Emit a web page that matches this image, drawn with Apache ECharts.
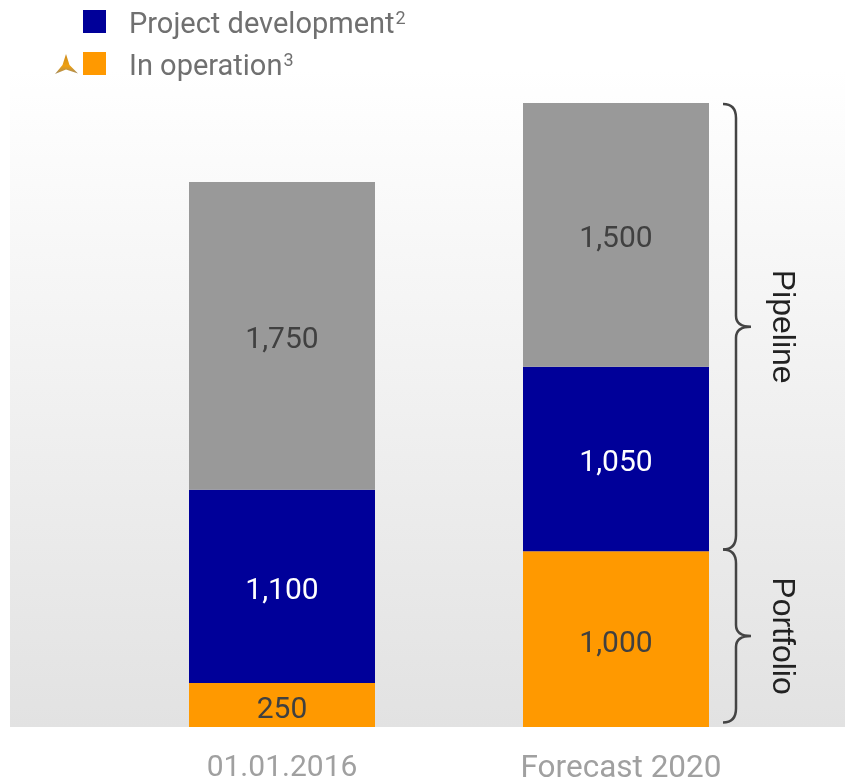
<!DOCTYPE html>
<html>
<head>
<meta charset="utf-8">
<title>Pipeline and portfolio</title>
<script src="https://cdn.jsdelivr.net/npm/echarts@6/dist/echarts.min.js"></script>
<style>
  html, body { margin: 0; padding: 0; background: #fff; }
  #main { width: 845px; height: 783px; }
</style>
</head>
<body>
<div id="main"></div>
<script>
// data
const categories = ['01.01.2016', 'Forecast 2020'];
const inOperation = [250, 1000];
const projectDevelopment = [1100, 1050];
const pipelineRest = [1750, 1500];
const legendNames = ['Project development', 'In operation'];
const legendNotes = ['2', '3'];
const braceNames = ['Portfolio', 'Pipeline'];
const braceFrom = [25, 1010];
const braceTo = [1010, 3545];

const font = 'Roboto';

const chart = echarts.init(document.getElementById('main'));

// thousands separator for the value labels
const valueLabel = (color) => ({
    show: true,
    position: 'inside',
    color: color,
    fontFamily: font,
    fontSize: 30,
    offset: [0, 5],
    formatter: p => p.value.toLocaleString('en-US')
});

// curly bracket next to the second bar, from value lo to value hi
const renderBrace = (params, api) => {
    const cx = api.coord([api.value(0), 0])[0];
    const top = api.coord([api.value(0), api.value(2)])[1];
    const bot = api.coord([api.value(0), api.value(1)])[1];
    const mid = (top + bot) / 2;
    const end = cx + 107, stem = cx + 120, tip = cx + 135;
    const d = [
        'M', end, top, 'Q', stem, top, stem, top + 14,
        'L', stem, mid - 11, 'Q', stem, mid, tip, mid,
        'Q', stem, mid, stem, mid + 11,
        'L', stem, bot - 14, 'Q', stem, bot, end, bot
    ].join(' ');
    return {
        type: 'group',
        children: [
            {
                type: 'path',
                shape: { pathData: d, layout: 'cover', x: end, y: top, width: tip - end, height: bot - top },
                style: { fill: 'none', stroke: '#444', lineWidth: 2.5 }
            },
            {
                type: 'text',
                x: cx + 166,
                y: mid,
                rotation: -Math.PI / 2,
                style: {
                    text: braceNames[params.dataIndex],
                    fill: '#222',
                    font: '32px "Liberation Sans"',
                    align: 'center',
                    verticalAlign: 'middle'
                }
            }
        ]
    };
};

chart.setOption({
    animation: false,
    graphic: [
        {
            // grey fade behind the plot
            type: 'rect',
            z: -10,
            shape: { x: 10, y: 70, width: 835, height: 657 },
            style: {
                fill: new echarts.graphic.LinearGradient(0, 0, 0, 1, [
                    { offset: 0, color: '#ffffff' },
                    { offset: 1, color: '#e2e2e2' }
                ])
            }
        },
        {
            // small logo beside the legend
            type: 'polygon',
            shape: { points: [[66, 54], [69.5, 65], [78, 73.5], [66, 69.5], [55, 74], [62.5, 65]] },
            style: {
                fill: new echarts.graphic.LinearGradient(0, 0, 0, 1, [
                    { offset: 0, color: '#c98a20' },
                    { offset: 0.6, color: '#f0a010' },
                    { offset: 1, color: '#a08a60' }
                ])
            }
        }
    ],
    legend: {
        data: legendNames,
        orient: 'vertical',
        left: 83,
        top: 10,
        padding: 0,
        itemWidth: 23,
        itemHeight: 23,
        itemGap: 12,
        icon: 'rect',
        selectedMode: false,
        formatter: name => '{a|' + name + '}{s|' + legendNotes[legendNames.indexOf(name)] + '}',
        textStyle: {
            padding: [0, 0, 0, 18],
            rich: {
                a: { color: '#707070', fontFamily: font, fontSize: 29, padding: [8, 0, 0, 0] },
                s: { color: '#707070', fontFamily: font, fontSize: 18, padding: [0, 0, 4, 1] }
            }
        }
    },
    grid: { left: 115, width: 668, top: 103, height: 624, outerBoundsMode: 'none' },
    xAxis: {
        type: 'category',
        data: categories,
        axisLine: { show: false },
        axisTick: { show: false },
        axisLabel: {
            color: '#a0a0a0',
            fontFamily: font,
            fontSize: 30,
            margin: 26,
            formatter: (v, i) => i === 1 ? '{w|' + v + '}' : v,
            rich: { w: { color: '#a0a0a0', fontFamily: font, fontSize: 31.5, padding: [0, 0, 0, 10] } }
        }
    },
    yAxis: { type: 'value', min: 0, max: 3550, show: false },
    series: [
        {
            name: 'In operation',
            type: 'bar',
            stack: 'total',
            barWidth: 186,
            data: inOperation,
            itemStyle: { color: '#ff9900' },
            label: valueLabel('#404040')
        },
        {
            name: 'Project development',
            type: 'bar',
            stack: 'total',
            data: projectDevelopment,
            itemStyle: { color: '#000099' },
            label: valueLabel('#ffffff')
        },
        {
            name: 'Pipeline rest',
            type: 'bar',
            stack: 'total',
            data: pipelineRest,
            itemStyle: { color: '#999999' },
            label: valueLabel('#404040')
        },
        {
            type: 'custom',
            renderItem: renderBrace,
            clip: false,
            silent: true,
            encode: { x: 0, y: [1, 2] },
            data: braceFrom.map((v, i) => [1, v, braceTo[i]])
        }
    ]
});
</script>
</body>
</html>
